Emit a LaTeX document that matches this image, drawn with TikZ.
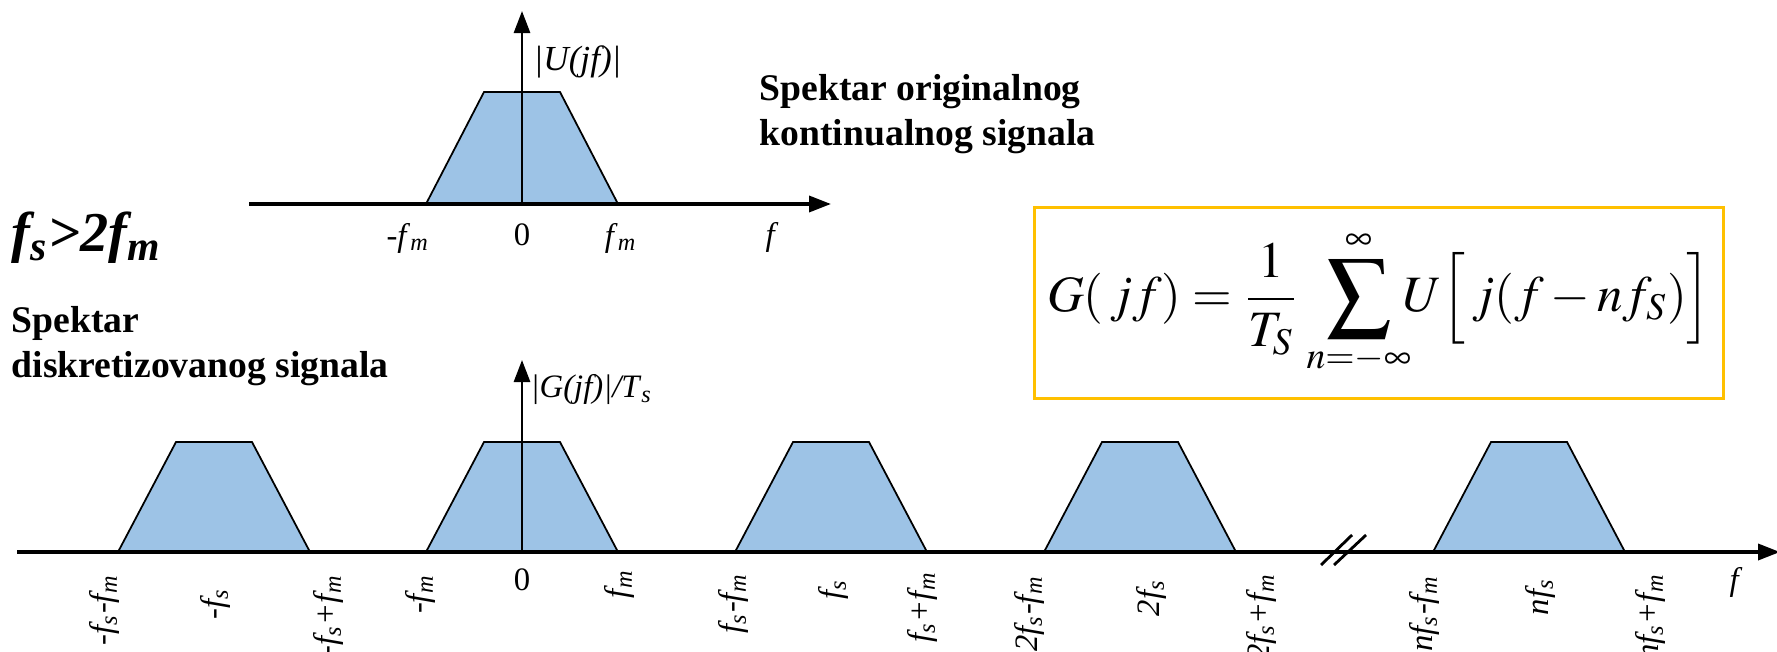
\documentclass[tikz,border=0pt]{standalone}
\usepackage{mathptmx}
\usepackage{mathtools}
\usepackage{fontspec}
\setmainfont{Liberation Serif}
\usetikzlibrary{arrows.meta}
\newcommand{\fsamp}{\textit{f}\textsubscript{\textit{s}}}
\newcommand{\fmax}{\textit{f}\textsubscript{\textit{m}}}

\begin{document}
\begin{tikzpicture}[x=0.01cm,y=0.01cm,>={Triangle[length=0.22cm,width=0.16cm]},font=\fontsize{9.3}{11}\selectfont]
\definecolor{bandfill}{RGB}{157,195,230}
\definecolor{boxorange}{RGB}{255,192,0}
\tikzset{
  band/.style={fill=bandfill,draw=black,line width=0.5pt},
  axisline/.style={->,line width=1pt},
  ticklab/.style={rotate=90,anchor=east,inner sep=0pt,font=\fontsize{9.3}{11}\selectfont\itshape},
  titletext/.style={align=left,anchor=west,inner sep=0pt,font=\fontsize{10.7}{12.8}\selectfont\bfseries}
}
\useasboundingbox (0,0) rectangle (1777,651);

% spectrum of the original signal
\draw[band] (426,447) -- (484,559) -- (560,559) -- (618,447) -- cycle;
\coordinate (o1) at (522,447);
\coordinate (x1a) at (249,447);
\coordinate (x1b) at (831,447);
\coordinate (y1) at (522,640);
\draw[axisline] (x1a) -- (x1b);
\draw[axisline,line width=0.8pt] (o1) -- (y1);
\node[anchor=west,inner sep=0pt,font=\fontsize{10}{12}\selectfont] (ulab) at (533,589) {\textit{|U(jf)|}};
\node (tmfm) at (408,413) {\textit{-}\fmax};
\node (tzero) at (522,416) {0};
\node (tfm) at (621,413) {\fmax};
\node (tf) at (772,414) {\textit{f}};
\node[titletext] (origtitle) at (759,537) {Spektar originalnog\\kontinualnog signala};

\node[anchor=west,inner sep=0pt,font=\fontsize{16}{19}\selectfont\bfseries\itshape] (cond) at (11,413) {f\textsubscript{s}>2f\textsubscript{m}};
\node[titletext] (disctitle) at (11,305) {Spektar\\diskretizovanog signala};

% formula
\node[draw=boxorange,line width=1pt,minimum width=6.89cm,minimum height=1.91cm,inner sep=0pt,font=\fontsize{14.5}{17}\selectfont] (formula) at (1379,348)
{$\displaystyle G(\,jf)=\frac{1}{T_S}\;\;\mathop{\vcenter{\hbox{\scalebox{1.25}{$\displaystyle\sum$}}}}\limits_{\mathclap{n=-\infty}}^{\infty}\,U\Big[\,j(f-nf_S)\Big]$};

% spectrum of the sampled signal
\draw[band] (118,99) -- (176,209) -- (252,209) -- (310,99) -- cycle;
\draw[band] (426,99) -- (484,209) -- (560,209) -- (618,99) -- cycle;
\draw[band] (735,99) -- (793,209) -- (869,209) -- (927,99) -- cycle;
\draw[band] (1044,99) -- (1102,209) -- (1178,209) -- (1236,99) -- cycle;
\draw[band] (1433,99) -- (1491,209) -- (1567,209) -- (1625,99) -- cycle;
\coordinate (o2) at (522,99);
\coordinate (x2a) at (17,99);
\coordinate (x2b) at (1780,99);
\coordinate (y2) at (522,291);
\draw[axisline] (x2a) -- (x2b);
\draw[axisline,line width=0.8pt] (o2) -- (y2);
\draw[line width=0.8pt] (1321,86) -- (1352,116) (1334,86) -- (1366,116);
\node[anchor=west,inner sep=0pt] (glab) at (530,261) {\textit{|G(jf)|/T}\textsubscript{\textit{s}}};

\node[ticklab] (l1) at (104,77) {-\fsamp-\fmax};
\node[ticklab] (l2) at (215,63) {-\fsamp};
\node[ticklab] (l3) at (328,77) {-\fsamp+\fmax};
\node[ticklab] (l4) at (420,77) {-\fmax};
\node (bzero) at (522,71) {0};
\node[ticklab] (l5) at (619,82) {\fmax};
\node[ticklab] (l6) at (733,78) {\fsamp-\fmax};
\node[ticklab] (l7) at (833,72) {\fsamp};
\node[ticklab] (l8) at (922,80) {\fsamp+\fmax};
\node[ticklab] (l9) at (1029,76) {2\fsamp-\fmax};
\node[ticklab] (l10) at (1151,72) {2\fsamp};
\node[ticklab] (l11) at (1261,78) {2\fsamp+\fmax};
\node[ticklab] (l12) at (1424,76) {n\fsamp-\fmax};
\node[ticklab] (l13) at (1540,73) {n\fsamp};
\node[ticklab] (l14) at (1650,78) {n\fsamp+\fmax};
\node (bf) at (1736,69) {\textit{f}};
\end{tikzpicture}
\end{document}
